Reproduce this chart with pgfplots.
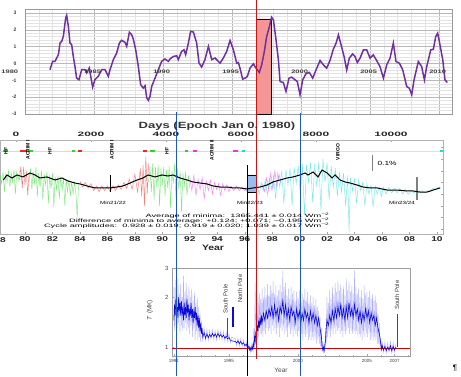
\documentclass[border=0pt]{standalone}
\usepackage{fontspec}
\setmainfont{Liberation Sans}
\usepackage{pgfplots}
\pgfplotsset{compat=1.18}
\pgfplotsset{/pgf/number format/assume math mode=true, /pgf/number format/1000 sep={}}
\definecolor{purp}{RGB}{112,48,160}
\definecolor{gr}{RGB}{40,215,40}
\definecolor{rd}{RGB}{235,40,40}
\definecolor{mg}{RGB}{235,50,235}
\definecolor{cy}{RGB}{30,215,220}
\definecolor{vblue}{RGB}{30,90,190}
\definecolor{vred}{RGB}{200,20,20}
\definecolor{rectred}{RGB}{244,150,150}
\definecolor{rectblue}{RGB}{150,190,240}
\definecolor{tblue}{RGB}{10,10,215}
\definecolor{lblue}{RGB}{110,110,250}
\definecolor{pinkl}{RGB}{255,200,210}
\definecolor{cyl}{RGB}{180,240,245}
\newcommand{\sx}[2]{\scalebox{#1}[1]{#2}}
\newcommand{\yl}[1]{\scalebox{1.45}[1]{#1}}
\begin{document}
\begin{tikzpicture}[x=1pt,y=1pt]
\useasboundingbox (0,0) rectangle (461,376);
\fill[white] (0,0) rectangle (461,376);

% ---------------- top panel ----------------
\begin{axis}[at={(25pt,262pt)}, anchor=south west, scale only axis,
  width=427pt, height=105pt,
  xmin=1980, xmax=2010.94, ymin=-3, ymax=3.24,
  xtick={1980,1985,...,2010}, minor x tick num=4, xticklabels={},
  ytick={-3,...,3}, minor y tick num=4,
  grid=both, major grid style={gray!55, line width=0.5pt},
  minor grid style={gray!22, line width=0.4pt},
  major tick length=0pt, minor tick length=0pt,
  axis line style={gray!80},
  yticklabel style={font=\fontsize{5}{5}\selectfont\bfseries, text=black!75, xshift=-5pt},
  clip=false]
\addplot[fill=rectred, draw=black, line width=0.6pt] coordinates
 {(1996.74,-3) (1997.88,-3) (1997.88,2.65) (1996.74,2.65) (1996.74,-3)};
\addplot[purp, line width=1.5pt] table {
1981.81 -0.37
1982.00 0.13
1982.17 0.13
1982.42 0.52
1982.54 1.22
1982.66 1.32
1982.78 1.62
1982.95 2.72
1983.02 2.86
1983.14 2.22
1983.26 1.22
1983.38 1.12
1983.50 0.42
1983.62 -0.17
1983.74 -0.87
1983.91 -0.96
1984.11 -0.37
1984.35 -0.37
1984.47 -0.56
1984.66 -0.27
1984.90 -1.40
1985.07 -0.96
1985.31 -0.76
1985.56 -0.37
1985.80 -0.37
1986.04 -0.76
1986.16 -0.37
1986.40 0.23
1986.64 0.62
1986.84 1.22
1987.00 1.38
1987.25 1.26
1987.37 1.02
1987.56 1.85
1987.73 1.71
1987.85 1.45
1988.02 0.82
1988.21 -0.17
1988.38 -1.26
1988.57 -1.46
1988.70 -1.32
1988.82 -2.05
1988.94 -2.19
1989.06 -1.95
1989.18 -1.36
1989.42 -0.87
1989.66 -0.37
1989.90 0.13
1990.14 0.27
1990.39 0.13
1990.51 0.27
1990.75 0.42
1990.99 0.46
1991.11 0.23
1991.35 0.72
1991.52 0.82
1991.64 0.52
1991.84 1.22
1992.00 1.91
1992.20 1.87
1992.44 1.22
1992.61 0.03
1992.80 -0.21
1993.04 0.23
1993.29 1.02
1993.53 0.23
1993.77 0.33
1994.13 0.02
1994.37 0.32
1994.61 0.71
1994.86 1.37
1995.10 0.81
1995.34 0.02
1995.46 0.06
1995.58 -0.28
1995.77 -0.93
1995.94 -0.87
1996.11 -0.77
1996.30 -0.28
1996.55 -0.02
1996.74 -0.28
1996.98 -0.53
1997.15 -0.08
1997.32 0.61
1997.51 1.60
1997.71 2.20
1997.87 2.75
1998.00 2.59
1998.16 1.60
1998.36 0.22
1998.48 -1.07
1998.72 -1.13
1998.91 -1.66
1999.13 -0.87
1999.32 -0.81
1999.57 -0.97
1999.73 -1.07
1999.93 -1.86
2000.12 -0.97
2000.36 -0.61
2000.60 -0.53
2000.85 -0.87
2001.14 -0.28
2001.38 0.18
2001.62 -0.08
2001.86 -0.28
2002.10 0.18
2002.34 0.85
2002.54 1.21
2002.71 1.70
2002.87 1.21
2003.12 0.42
2003.31 -0.38
2003.50 0.32
2003.74 0.57
2003.91 0.42
2004.08 0.06
2004.28 0.32
2004.52 0.81
2004.76 0.81
2005.00 0.32
2005.24 0.51
2005.48 0.18
2005.72 -0.18
2005.97 -0.87
2006.21 -0.08
2006.45 0.32
2006.69 1.21
2006.88 0.12
2007.13 0.02
2007.37 -0.38
2007.66 -1.37
2007.85 -1.47
2008.02 -1.86
2008.19 -0.97
2008.50 0.12
2008.74 -0.18
2008.94 -0.97
2009.11 -0.18
2009.40 0.81
2009.59 0.85
2009.76 1.60
2009.90 1.80
2010.07 1.11
2010.27 0.22
2010.43 -0.97
2010.60 -1.13
};
\node[anchor=north, font=\fontsize{5}{5}\selectfont\bfseries, text=black!75] at (axis cs:1978.9,-0.2) {\sx{1.5}{1980}};
\node[anchor=north, font=\fontsize{5}{5}\selectfont\bfseries, text=black!75] at (axis cs:1984.9,-0.2) {\sx{1.5}{1985}};
\node[anchor=north, font=\fontsize{5}{5}\selectfont\bfseries, text=black!75] at (axis cs:1989.9,-0.2) {\sx{1.5}{1990}};
\node[anchor=north, font=\fontsize{5}{5}\selectfont\bfseries, text=black!75] at (axis cs:1994.9,-0.2) {\sx{1.5}{1995}};
\node[anchor=north, font=\fontsize{5}{5}\selectfont\bfseries, text=black!75] at (axis cs:1999.9,-0.2) {\sx{1.5}{2000}};
\node[anchor=north, font=\fontsize{5}{5}\selectfont\bfseries, text=black!75] at (axis cs:2004.9,-0.2) {\sx{1.5}{2005}};
\node[anchor=north, font=\fontsize{5}{5}\selectfont\bfseries, text=black!75] at (axis cs:2009.9,-0.2) {\sx{1.5}{2010}};
\end{axis}

% ---------------- middle panel (years) ----------------
\begin{axis}[at={(0pt,142pt)}, anchor=south west, scale only axis,
  width=443pt, height=94pt,
  xmin=1978.18, xmax=2010.44, ymin=1361.59, ymax=1369.63,
  xtick={1980,1982,...,2010},
  xticklabels={\yl{80},\yl{82},\yl{84},\yl{86},\yl{88},\yl{90},\yl{92},\yl{94},\yl{96},\yl{98},\yl{00},\yl{02},\yl{04},\yl{06},\yl{08},\yl{10}},
  xtick pos=bottom, ytick={1362,...,1369}, yticklabels={}, ytick pos=right,
  tick align=inside, major tick length=2pt, tick style={gray!70},
  axis line style={gray!60},
  xticklabel style={font=\fontsize{7}{7}\selectfont\bfseries, text=black!85, yshift=1pt},
  unbounded coords=jump]
% instrument marker row
\addplot[pinkl, line width=0.6pt] coordinates {(1978.18,1368.69) (1996.1,1368.69)};
\addplot[cyl, line width=0.6pt] coordinates {(1996.1,1368.69) (2010.44,1368.69)};
\addplot[gr, line width=2pt] coordinates {(1978.40,1368.69) (1978.76,1368.69) (1978.76,nan) (1980.22,1368.69) (1980.58,1368.69) (1980.58,nan) (1983.42,1368.69) (1983.64,1368.69) (1983.64,nan) (1989.10,1368.69) (1989.47,1368.69) (1989.47,nan) (1991.65,1368.69) (1991.87,1368.69)};
\addplot[rd, line width=2pt] coordinates {(1979.64,1368.69) (1980.15,1368.69) (1980.15,nan) (1983.86,1368.69) (1984.15,1368.69) (1984.15,nan) (1988.59,1368.69) (1988.89,1368.69)};
\addplot[mg, line width=2pt] coordinates {(1992.24,1368.69) (1992.53,1368.69) (1992.53,nan) (1995.15,1368.69) (1995.51,1368.69)};
\addplot[cy, line width=2pt] coordinates {(1995.80,1368.69) (1996.02,1368.69) (1996.02,nan) (2010.23,1368.69) (2010.44,1368.69)};
% noisy daily data
\addplot[gr, opacity=0.6, line width=0.45pt] table {
1978.20 1366.6
1978.30 1365.9
1978.40 1366.9
1978.50 1365.2
1978.60 1366.7
1978.70 1366.0
1978.80 1367.0
1978.90 1365.6
1979.00 1366.8
1979.10 1366.0
1979.20 1367.1
1979.30 1365.0
1979.40 1366.9
1979.50 1366.1
1979.60 1367.0
};
\addplot[rd, opacity=0.6, line width=0.45pt] table {
1979.60 1366.2
1979.70 1367.4
1979.80 1365.5
1979.90 1367.3
1980.00 1365.8
1980.10 1367.0
1980.20 1364.9
1980.30 1366.8
};
\addplot[gr, opacity=0.6, line width=0.45pt] table {
1980.30 1366.0
1980.40 1367.2
1980.50 1365.4
1980.60 1366.9
1980.70 1365.9
1980.80 1367.3
1980.90 1364.8
1981.00 1366.8
1981.10 1365.6
1981.20 1367.0
1981.30 1364.5
1981.40 1366.7
1981.50 1365.8
1981.60 1366.9
1981.70 1364.2
1981.80 1366.6
1981.90 1365.5
1982.00 1366.8
1982.10 1363.9
1982.20 1366.5
1982.30 1365.4
1982.40 1366.6
1982.50 1364.6
1982.60 1366.5
1982.70 1365.3
1982.80 1366.4
1982.90 1364.0
1983.00 1366.3
1983.10 1365.2
1983.20 1366.3
1983.30 1364.8
1983.40 1366.1
1983.50 1365.0
1983.60 1366.0
1983.70 1365.2
1983.80 1363.0
1983.90 1365.9
};
\addplot[rd, opacity=0.6, line width=0.45pt] table {
1984.00 1366.1
1984.20 1365.6
1984.40 1366.0
1984.60 1365.5
1984.80 1365.9
1985.00 1365.3
1985.20 1365.7
1985.40 1365.2
1985.60 1365.7
1985.80 1365.3
1986.00 1365.7
1986.20 1365.2
1986.40 1365.7
1986.60 1365.3
1986.80 1365.8
1987.00 1365.4
1987.20 1366.0
1987.40 1365.5
1987.60 1366.3
1987.80 1365.4
1988.00 1366.7
1988.20 1365.2
1988.40 1367.2
1988.50 1364.8
1988.60 1367.5
1988.70 1364.0
1988.80 1368.2
1988.90 1365.0
1989.00 1367.6
};
\addplot[gr, opacity=0.6, line width=0.45pt] table {
1989.00 1366.0
1989.10 1367.4
1989.20 1365.2
1989.30 1367.6
1989.40 1364.5
1989.50 1367.3
1989.60 1365.6
1989.70 1367.5
1989.80 1364.0
1989.90 1367.2
1990.00 1365.8
1990.10 1367.3
1990.20 1364.8
1990.30 1367.1
1990.40 1365.5
1990.50 1367.4
1990.60 1363.8
1990.70 1367.0
1990.80 1365.9
1990.90 1367.6
1991.00 1364.6
1991.10 1367.2
1991.20 1365.4
1991.30 1367.0
1991.40 1363.5
1991.50 1366.8
1991.60 1365.7
1991.70 1366.9
1991.80 1364.9
1991.90 1366.6
1992.00 1365.5
};
\addplot[mg, opacity=0.6, line width=0.45pt] table {
1992.00 1366.5
1992.15 1365.3
1992.30 1366.6
1992.45 1364.9
1992.60 1366.3
1992.75 1365.4
1992.90 1366.4
1993.05 1364.6
1993.20 1366.1
1993.35 1365.3
1993.50 1366.2
1993.65 1365.0
1993.80 1366.0
1993.95 1365.4
1994.10 1365.9
1994.25 1364.9
1994.40 1365.9
1994.55 1365.3
1994.70 1365.8
1994.85 1365.2
1995.00 1365.7
1995.20 1365.3
1995.40 1365.7
1995.60 1365.3
1995.80 1365.6
1996.00 1365.3
1996.20 1365.6
};
\addplot[cy, opacity=0.6, line width=0.45pt] table {
1996.00 1365.7
1996.15 1365.2
1996.30 1365.7
1996.45 1365.1
1996.60 1365.8
1996.75 1365.2
1996.90 1365.9
1997.05 1365.0
1997.20 1366.0
1997.35 1365.3
1997.50 1366.2
1997.65 1364.9
1997.80 1366.4
1997.95 1365.4
1998.10 1366.6
1998.25 1364.6
1998.40 1366.8
1998.55 1365.6
1998.70 1367.0
1998.85 1364.2
1999.00 1367.1
1999.15 1365.8
1999.30 1367.2
1999.45 1364.0
1999.60 1367.3
1999.75 1365.9
1999.90 1367.4
2000.05 1365.0
2000.20 1367.6
2000.35 1363.2
2000.50 1367.5
2000.65 1366.0
2000.80 1367.7
2000.95 1364.3
2001.10 1367.6
2001.25 1365.6
2001.40 1367.8
2001.55 1363.6
2001.70 1368.0
2001.85 1366.0
2002.00 1367.7
2002.15 1364.5
2002.30 1367.4
2002.45 1365.6
2002.60 1367.2
2002.75 1364.8
2002.90 1366.9
2003.05 1365.2
2003.20 1366.8
2003.35 1364.0
2003.50 1366.6
2003.60 1361.8
2003.70 1366.4
2003.85 1365.3
2004.00 1366.3
2004.15 1364.2
2004.30 1366.2
2004.45 1365.3
2004.60 1366.0
2004.75 1364.0
2004.90 1365.9
2005.05 1365.0
2005.20 1365.8
2005.35 1363.9
2005.50 1365.7
2005.65 1365.0
2005.80 1365.6
2005.95 1364.8
2006.10 1365.6
2006.30 1365.0
2006.50 1365.6
2006.70 1365.1
2006.90 1365.5
2007.10 1365.1
2007.30 1365.5
2007.50 1365.0
2007.70 1365.4
2007.90 1365.0
2008.10 1365.3
2008.30 1365.1
2008.50 1365.3
2008.70 1365.1
2008.90 1365.3
2009.10 1365.1
2009.30 1365.3
2009.50 1365.2
2009.70 1365.5
2009.90 1365.4
2010.10 1365.6
2010.30 1365.5
};
\addplot[mg, opacity=0.6, line width=0.45pt] table {
1997.30 1365.9
1997.45 1365.2
1997.60 1366.4
1997.75 1365.3
1997.90 1366.8
1998.05 1365.4
1998.20 1367.0
1998.35 1365.6
1998.50 1366.7
1998.65 1365.9
};
\addplot[fill=rectblue, draw=black, line width=0.6pt] coordinates
 {(1996.17,1365.18) (1996.82,1365.18) (1996.82,1366.64) (1996.17,1366.64) (1996.17,1365.18)};
\addplot[black, line width=0.8pt] coordinates {(1986.19,1366.64) (1986.19,1365.18)};
\addplot[gray, line width=1.3pt] coordinates {(2008.55,1366.47) (2008.55,1364.5)};
\addplot[gray, line width=1.2pt] coordinates {(2005.31,1368.35) (2005.31,1367.0)};
% smoothed composite
\addplot[black, line width=1pt] table {
1978.42 1366.21
1978.69 1366.64
1979.05 1366.38
1979.42 1366.64
1979.85 1366.47
1980.36 1366.81
1980.73 1366.64
1981.09 1366.38
1981.60 1366.47
1982.19 1366.21
1982.69 1366.38
1983.13 1366.12
1983.64 1365.95
1984.01 1365.87
1984.52 1365.70
1985.10 1365.53
1985.68 1365.53
1986.19 1365.53
1986.70 1365.61
1987.14 1365.70
1987.65 1365.95
1988.16 1366.21
1988.59 1366.38
1988.96 1366.64
1989.47 1366.47
1989.98 1366.64
1990.42 1366.55
1990.78 1366.64
1991.29 1366.38
1991.80 1366.21
1992.24 1366.04
1992.75 1365.95
1993.26 1365.87
1993.69 1365.70
1994.20 1365.61
1994.71 1365.61
1995.15 1365.53
1995.66 1365.53
1996.17 1365.44
1996.61 1365.53
1997.12 1365.61
1997.63 1365.78
1998.06 1366.04
1998.57 1366.21
1999.08 1366.38
1999.52 1366.47
2000.03 1366.64
2000.39 1366.81
2000.61 1366.64
2000.98 1366.89
2001.34 1366.47
2001.63 1367.06
2002.00 1366.81
2002.36 1366.38
2002.58 1366.64
2002.94 1366.21
2003.31 1366.04
2003.67 1365.95
2004.18 1365.78
2004.62 1365.61
2005.13 1365.53
2005.64 1365.53
2006.37 1365.35
2007.09 1365.35
2007.82 1365.27
2008.26 1365.27
2008.77 1365.18
2009.28 1365.18
2009.72 1365.35
2010.23 1365.53
};
\end{axis}

% ---------------- middle panel (days axis on top) ----------------
\begin{axis}[at={(0pt,142pt)}, anchor=south west, scale only axis,
  width=443pt, height=94pt,
  xmin=-426.7, xmax=11386.7, ymin=0, ymax=1,
  axis x line*=top, hide y axis, scaled x ticks=false,
  xtick={0,2000,...,10000}, minor x tick num=3,
  tick align=inside, major tick length=2pt, minor tick length=1.2pt, tick style={gray!70},
  axis line style={gray!60},
  xticklabel={\sx{1.9}{\pgfmathprintnumber{\tick}}},
  xticklabel style={font=\fontsize{6.3}{6.3}\selectfont\bfseries, text=black!85}]
\addplot[draw=none] coordinates {(0,0)};
\end{axis}

% ---------------- bottom panel ----------------
\begin{axis}[at={(172pt,20pt)}, anchor=south west, scale only axis,
  width=238pt, height=88pt,
  xmin=1990.87, xmax=2008.12, ymode=log, ymin=0.883, ymax=3,
  ytick={1,2,3}, yticklabels={1,2,3},
  xtick={1991,1995,2000,2005,2007}, minor xtick={1992,...,2008},
  xtick pos=bottom, ytick pos=left, tick align=inside,
  major tick length=2pt, minor tick length=1.5pt, tick style={gray!70},
  axis line style={gray!75, line width=0.6pt},
  xticklabel style={font=\fontsize{4.5}{4.5}\selectfont, text=black!75},
  yticklabel style={font=\fontsize{6}{6}\selectfont, text=black!70},
  clip=false]
\addplot[red!80!black, line width=0.5pt] coordinates {(1990.87,0.99) (2008.12,0.99)};
\addplot[lblue, opacity=0.55, line width=0.4pt] table {
1991.00 2.30
1991.05 1.25
1991.10 2.55
1991.15 1.35
1991.20 2.20
1991.25 1.30
1991.30 2.60
1991.35 1.40
1991.40 2.10
1991.45 1.20
1991.50 2.40
1991.55 1.35
1991.60 2.00
1991.65 1.25
1991.70 2.70
1991.75 1.30
1991.80 2.15
1991.85 1.40
1991.90 2.45
1991.95 1.25
1992.00 2.05
1992.05 1.30
1992.10 2.35
1992.15 1.20
1992.20 2.00
1992.25 1.35
1992.30 2.25
1992.35 1.15
1992.40 1.90
1992.45 1.30
1992.50 2.15
1992.55 1.10
1992.60 1.85
1992.65 1.25
1992.70 2.00
1992.75 1.10
1992.80 1.75
1992.85 1.15
1992.90 1.60
1992.95 1.08
1993.00 1.45
1993.10 1.08
1993.20 1.30
1993.30 1.10
1993.40 1.28
1993.50 1.10
1993.60 1.26
1993.70 1.12
1993.80 1.27
1993.90 1.11
1994.00 1.25
1994.10 1.10
1994.20 1.27
1994.30 1.12
1994.40 1.25
1994.50 1.10
1994.60 1.24
1994.70 1.08
1994.80 1.22
1994.90 1.08
1995.00 1.20
1995.10 1.06
1995.20 1.15
1995.45 1.12
1995.55 1.02
1995.65 1.13
1995.75 1.01
1995.85 1.12
1995.95 1.00
1996.05 1.10
1996.15 0.98
1996.25 1.08
1996.35 0.95
1996.45 1.05
1996.55 0.93
1996.65 1.04
1996.75 0.95
1996.80 1.30
1996.85 1.00
1996.90 2.45
1996.95 1.05
1997.00 1.80
1997.05 1.10
1997.10 2.00
1997.15 1.15
1997.20 2.10
1997.25 1.20
1997.30 1.95
1997.35 1.20
1997.40 2.25
1997.45 1.15
1997.50 2.00
1997.55 1.25
1997.60 2.30
1997.65 1.20
1997.70 2.05
1997.75 1.30
1997.80 2.40
1997.85 1.25
1997.90 2.10
1997.95 1.30
1998.00 2.35
1998.05 1.20
1998.10 2.20
1998.15 1.35
1998.20 2.50
1998.25 1.25
1998.30 2.10
1998.35 1.30
1998.40 2.35
1998.45 1.20
1998.50 2.05
1998.55 1.30
1998.60 2.20
1998.65 1.15
1998.70 2.40
1998.75 1.30
1998.80 2.15
1998.85 1.25
1998.90 2.90
1998.95 1.30
1999.00 2.30
1999.05 1.20
1999.10 2.45
1999.15 1.25
1999.20 2.05
1999.25 1.15
1999.30 2.25
1999.35 1.30
1999.40 1.95
1999.45 1.20
1999.50 2.30
1999.55 1.25
1999.60 2.10
1999.65 1.15
1999.70 2.20
1999.75 1.25
1999.80 1.90
1999.85 1.20
1999.90 2.15
1999.95 1.15
2000.00 2.00
2000.05 1.25
2000.10 2.20
2000.15 1.15
2000.20 1.95
2000.25 1.20
2000.30 2.10
2000.35 1.10
2000.40 2.00
2000.45 1.20
2000.50 2.25
2000.55 1.15
2000.60 1.95
2000.65 1.20
2000.70 2.15
2000.75 1.10
2000.80 1.90
2000.85 1.15
2000.90 2.05
2000.95 1.10
2001.00 1.85
2001.05 1.15
2001.10 2.00
2001.15 1.10
2001.20 1.80
2001.25 1.15
2001.30 1.95
2001.35 1.05
2001.40 1.75
2001.45 1.10
2001.50 1.65
2001.55 1.05
2001.60 1.50
2001.65 1.00
2001.70 1.30
2001.75 0.93
2001.80 1.08
2001.85 0.92
2001.90 1.05
2001.95 0.94
2002.00 1.30
2002.05 1.05
2002.10 2.00
2002.15 1.15
2002.20 1.85
2002.25 1.20
2002.30 2.20
2002.35 1.15
2002.40 1.95
2002.45 1.25
2002.50 2.30
2002.55 1.20
2002.60 2.05
2002.65 1.30
2002.70 2.45
2002.75 1.20
2002.80 2.15
2002.85 1.25
2002.90 2.55
2002.95 1.30
2003.00 2.20
2003.05 1.20
2003.10 2.40
2003.15 1.25
2003.20 2.10
2003.25 1.15
2003.30 2.35
2003.35 1.25
2003.40 2.05
2003.45 1.20
2003.50 2.60
2003.55 1.25
2003.60 2.20
2003.65 1.30
2003.70 2.50
2003.75 1.20
2003.80 2.15
2003.85 1.25
2003.90 2.35
2003.95 1.20
2004.00 2.10
2004.05 1.25
2004.10 2.90
2004.15 1.20
2004.20 2.30
2004.25 1.25
2004.30 2.10
2004.35 1.15
2004.40 2.25
2004.45 1.20
2004.50 2.00
2004.55 1.15
2004.60 2.20
2004.65 1.10
2004.70 1.95
2004.75 1.20
2004.80 2.35
2004.85 1.15
2004.90 2.05
2004.95 1.20
2005.00 2.15
2005.05 1.15
2005.10 2.00
2005.15 1.20
2005.20 2.20
2005.25 1.10
2005.30 1.95
2005.35 1.15
2005.40 2.10
2005.45 1.10
2005.50 1.90
2005.55 1.15
2005.60 2.05
2005.65 1.10
2005.70 1.85
2005.75 1.05
2005.80 1.60
2005.85 1.05
2005.90 1.40
2005.95 0.97
2006.00 1.15
2006.05 0.94
2006.10 1.08
2006.20 0.93
2006.30 1.07
2006.40 0.92
2006.50 1.06
2006.60 0.93
2006.70 1.08
2006.80 0.92
2006.90 1.06
2007.00 0.93
2007.10 1.05
};
\addplot[tblue, line width=0.6pt] table {
1991.00 1.45
1991.05 1.80
1991.10 1.55
1991.15 1.95
1991.20 1.60
1991.25 1.75
1991.30 1.50
1991.35 2.00
1991.40 1.65
1991.45 1.85
1991.50 1.55
1991.55 1.90
1991.60 1.60
1991.65 1.70
1991.70 1.45
1991.75 1.85
1991.80 1.55
1991.85 1.75
1991.90 1.50
1991.95 1.95
1992.00 1.60
1992.05 1.80
1992.10 1.45
1992.15 1.70
1992.20 1.55
1992.25 1.85
1992.30 1.50
1992.35 1.70
1992.40 1.40
1992.45 1.65
1992.50 1.50
1992.55 1.75
1992.60 1.45
1992.65 1.60
1992.70 1.35
1992.75 1.55
1992.80 1.30
1992.85 1.50
1992.90 1.25
1992.95 1.40
1993.00 1.20
1993.05 1.30
1993.10 1.15
1993.20 1.22
1993.30 1.13
1993.40 1.20
1993.50 1.14
1993.60 1.19
1993.70 1.15
1993.80 1.21
1993.90 1.16
1994.00 1.20
1994.10 1.15
1994.20 1.21
1994.30 1.16
1994.40 1.19
1994.50 1.15
1994.60 1.18
1994.70 1.13
1994.80 1.16
1994.90 1.12
1995.00 1.14
1995.10 1.10
1995.20 1.09
1995.45 1.08
1995.55 1.06
1995.65 1.09
1995.75 1.05
1995.85 1.08
1995.95 1.04
1996.05 1.06
1996.15 1.02
1996.25 1.04
1996.35 0.99
1996.45 1.01
1996.50 0.96
1996.55 0.99
1996.60 0.95
1996.65 1.00
1996.70 0.97
1996.75 1.05
1996.80 1.00
1996.85 1.15
1996.90 1.08
1996.95 1.25
1997.00 1.15
1997.05 1.35
1997.10 1.25
1997.15 1.45
1997.20 1.30
1997.25 1.50
1997.30 1.35
1997.35 1.55
1997.40 1.40
1997.50 1.60
1997.60 1.45
1997.70 1.65
1997.80 1.50
1997.90 1.70
1998.00 1.55
1998.10 1.75
1998.20 1.50
1998.30 1.80
1998.40 1.55
1998.50 1.70
1998.60 1.45
1998.70 1.75
1998.80 1.60
1998.90 1.90
1999.00 1.55
1999.10 1.80
1999.20 1.50
1999.30 1.70
1999.40 1.45
1999.50 1.75
1999.60 1.55
1999.70 1.65
1999.80 1.40
1999.90 1.70
2000.00 1.50
2000.10 1.65
2000.20 1.40
2000.30 1.60
2000.40 1.45
2000.50 1.70
2000.60 1.50
2000.70 1.60
2000.80 1.40
2000.90 1.65
2001.00 1.45
2001.10 1.60
2001.20 1.40
2001.30 1.55
2001.40 1.35
2001.50 1.50
2001.60 1.30
2001.70 1.15
2001.75 1.00
2001.80 0.96
2001.85 1.00
2001.90 0.95
2001.95 1.02
2002.00 1.10
2002.05 1.30
2002.10 1.45
2002.20 1.35
2002.30 1.55
2002.40 1.40
2002.50 1.65
2002.60 1.45
2002.70 1.70
2002.80 1.50
2002.90 1.75
2003.00 1.55
2003.10 1.80
2003.20 1.50
2003.30 1.70
2003.40 1.45
2003.50 1.75
2003.60 1.50
2003.70 1.85
2003.80 1.55
2003.90 1.70
2004.00 1.50
2004.10 1.80
2004.20 1.55
2004.30 1.70
2004.40 1.45
2004.50 1.65
2004.60 1.40
2004.70 1.60
2004.80 1.45
2004.90 1.70
2005.00 1.50
2005.10 1.65
2005.20 1.40
2005.30 1.60
2005.40 1.45
2005.50 1.55
2005.60 1.35
2005.70 1.50
2005.80 1.30
2005.90 1.20
2006.00 1.05
2006.05 0.97
2006.10 1.02
2006.20 0.96
2006.30 1.01
2006.40 0.95
2006.50 1.00
2006.60 0.96
2006.70 1.02
2006.80 0.95
2006.90 1.01
2007.00 0.96
2007.10 1.00
};
\addplot[tblue, line width=2pt] coordinates {(1995.30,1.32) (1995.30,1.75)};
\addplot[black!70, line width=0.5pt] coordinates {(1994.86,1.15) (1994.86,1.50)};
\addplot[black!70, line width=0.5pt] coordinates {(2007.17,1.00) (2007.17,1.58)};
\node[rotate=90, anchor=west, font=\fontsize{6}{6}\selectfont, text=black!75] at (axis cs:1994.75,1.52) {South Pole};
\node[rotate=90, anchor=west, font=\fontsize{6}{6}\selectfont, text=black!75] at (axis cs:1995.80,1.76) {North Pole};
\node[rotate=90, anchor=west, font=\fontsize{6}{6}\selectfont, text=black!75] at (axis cs:2007.17,1.60) {South Pole};
\end{axis}

% ---------------- overlay (pixel frame) ----------------
\begin{axis}[at={(0pt,0pt)}, anchor=south west, scale only axis,
  width=461pt, height=376pt, xmin=0, xmax=461, ymin=0, ymax=376,
  y dir=reverse, hide axis, clip=false]
\addplot[vred, line width=0.8pt] coordinates {(256,0) (256,359)};
\addplot[black, line width=0.8pt] coordinates {(247,165) (247,376)};
\addplot[vblue, line width=0.8pt] coordinates {(176,112) (176,376)};
\addplot[vblue, line width=0.8pt] coordinates {(300,113) (300,376)};
\node[font=\fontsize{9}{9}\selectfont\bfseries, text=black!80] at (axis cs:217,126) {\sx{1.45}{Days (Epoch Jan 0, 1980)}};
\node[font=\fontsize{7}{7}\selectfont\bfseries, text=black!85, anchor=west, inner sep=0pt] at (axis cs:0,240.5) {\yl{8}};
\node[font=\fontsize{8}{8}\selectfont\bfseries, text=black!85] at (axis cs:213,248) {\sx{1.3}{Year}};
\node[rotate=90, font=\fontsize{5}{5}\selectfont\bfseries] at (axis cs:6,151) {HF};
\node[rotate=90, font=\fontsize{5}{5}\selectfont\bfseries] at (axis cs:28,150) {ACRIM I};
\node[rotate=90, font=\fontsize{5}{5}\selectfont\bfseries] at (axis cs:50,151) {HF};
\node[rotate=90, font=\fontsize{5}{5}\selectfont\bfseries] at (axis cs:112,150) {ACRIM I};
\node[rotate=90, font=\fontsize{5}{5}\selectfont\bfseries] at (axis cs:167,151) {HF};
\node[rotate=90, font=\fontsize{5}{5}\selectfont\bfseries] at (axis cs:212,150) {ACRIM II};
\node[rotate=90, font=\fontsize{5}{5}\selectfont\bfseries] at (axis cs:338,152) {VIRGO};
\node[anchor=west, font=\fontsize{6}{6}\selectfont] at (axis cs:374,163) {\sx{1.4}{0.1\%}};
\node[font=\fontsize{4.5}{4.5}\selectfont] at (axis cs:113,203) {\sx{1.4}{Min21/22}};
\node[font=\fontsize{4.5}{4.5}\selectfont] at (axis cs:250,203) {\sx{1.4}{Min22/23}};
\node[font=\fontsize{4.5}{4.5}\selectfont] at (axis cs:402,203) {\sx{1.4}{Min23/24}};
\node[anchor=east, font=\fontsize{4.8}{4.8}\selectfont, inner sep=0pt] at (axis cs:330,215.5) {\sx{1.93}{Average of minima:\ \ 1365.441 ± 0.014 Wm\textsuperscript{−2}}};
\node[anchor=east, font=\fontsize{4.8}{4.8}\selectfont, inner sep=0pt] at (axis cs:330,220.5) {\sx{1.93}{Difference of minima to average: +0.124; +0.071; −0.195 Wm\textsuperscript{−2}}};
\node[anchor=east, font=\fontsize{4.8}{4.8}\selectfont, inner sep=0pt] at (axis cs:330,225.5) {\sx{1.93}{Cycle amplitudes:\ \ 0.928 ± 0.019; 0.919 ± 0.020; 1.039 ± 0.017 Wm\textsuperscript{−2}}};
\node[rotate=90, font=\fontsize{6.5}{6.5}\selectfont, text=black!70] at (axis cs:150,310) {\textit{T} (MK)};
\node[font=\fontsize{6.5}{6.5}\selectfont, text=black!70] at (axis cs:281,370) {Year};
\node[font=\fontsize{8}{8}\selectfont] at (axis cs:455,368) {¶};
\end{axis}
\end{tikzpicture}
\end{document}
